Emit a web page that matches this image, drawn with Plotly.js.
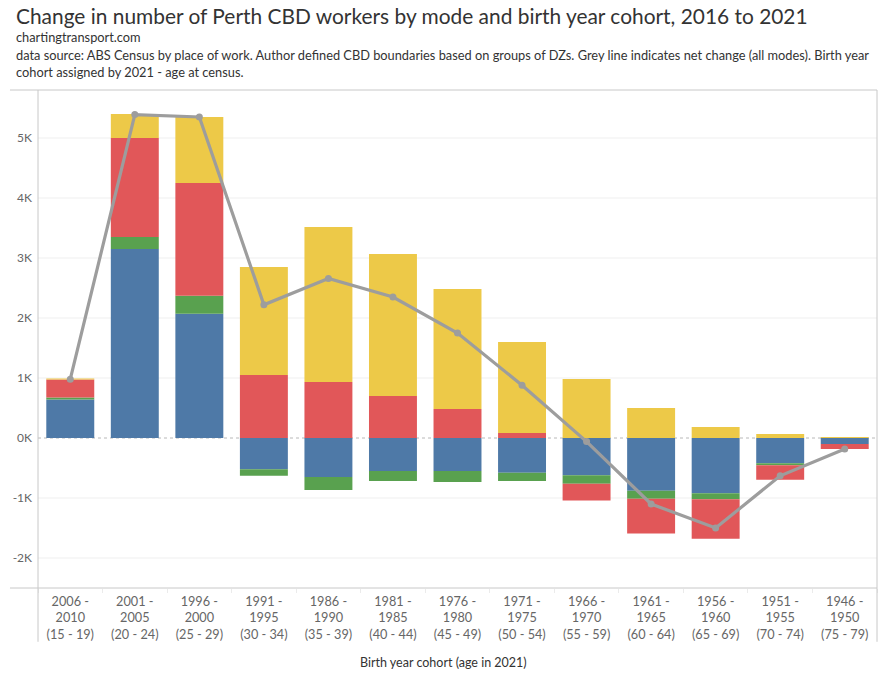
<!DOCTYPE html>
<html>
<head>
<meta charset="utf-8">
<script src="https://cdn.plot.ly/plotly-3.0.1.min.js"></script>
<style>
  html, body { margin: 0; padding: 0; background: #fff; }
  #chart { width: 882px; height: 676px; }
</style>
</head>
<body>
<div id="chart"></div>
<script>
// ---- Data (change in number of workers, 2016 to 2021) ----
const cohorts = [
  "2006 -<br>2010<br>(15 - 19)", "2001 -<br>2005<br>(20 - 24)", "1996 -<br>2000<br>(25 - 29)",
  "1991 -<br>1995<br>(30 - 34)", "1986 -<br>1990<br>(35 - 39)", "1981 -<br>1985<br>(40 - 44)",
  "1976 -<br>1980<br>(45 - 49)", "1971 -<br>1975<br>(50 - 54)", "1966 -<br>1970<br>(55 - 59)",
  "1961 -<br>1965<br>(60 - 64)", "1956 -<br>1960<br>(65 - 69)", "1951 -<br>1955<br>(70 - 74)",
  "1946 -<br>1950<br>(75 - 79)"
];
const modeBlue   = [640, 3150, 2070, -520, -650, -550, -550, -580, -620, -880, -920, -420, -100];
const modeGreen  = [35, 200, 300, -110, -217, -167, -183, -135, -143, -133, -100, -33, 0];
const modeRed    = [300, 1650, 1880, 1050, 933, 700, 483, 83, -280, -577, -661, -244, -83];
const modeYellow = [16, 400, 1100, 1800, 2584, 2367, 2000, 1517, 983, 500, 183, 67, 15];
const netChange  = [980, 5390, 5350, 2220, 2660, 2350, 1750, 880, -60, -1100, -1500, -630, -185];

const yTickVals = [-2000, -1000, 0, 1000, 2000, 3000, 4000, 5000];
const yTickText = ["-2K", "-1K", "0K", "1K", "2K", "3K", "4K", "5K"];

const FONT = "Lato, 'Open Sans', sans-serif";
const colors = { blue: "#4e79a7", green: "#59a14f", red: "#e15759", yellow: "#edc948" };

function barTrace(vals, color, name) {
  return { type: "bar", x: cohorts, y: vals, name: name,
           marker: { color: color, line: { width: 0 } }, hoverinfo: "skip" };
}

const traces = [
  barTrace(modeBlue, colors.blue, "Mode 1"),
  barTrace(modeGreen, colors.green, "Mode 2"),
  barTrace(modeRed, colors.red, "Mode 3"),
  barTrace(modeYellow, colors.yellow, "Mode 4"),
  { type: "scatter", mode: "lines+markers", x: cohorts, y: netChange, name: "Net",
    line: { color: "#9d9d9d", width: 3.2 }, marker: { color: "#9d9d9d", size: 7 }, hoverinfo: "skip" }
];

const frame = "#c8c8c8";
const shapes = [];
yTickVals.forEach(v => {
  shapes.push({ type: "line", layer: "below", xref: "paper", yref: "y", x0: 0, x1: 1, y0: v, y1: v,
    line: v === 0 ? { color: "#b8b8b8", width: 1, dash: "dot" } : { color: "#efefef", width: 1 } });
});
// frame lines
shapes.push({ type: "line", xref: "paper", yref: "paper", x0: -0.0334, x1: 1, y0: 1, y1: 1, line: { color: frame, width: 1 } });
shapes.push({ type: "line", xref: "paper", yref: "paper", x0: -0.0334, x1: 1, y0: 0, y1: 0, line: { color: frame, width: 1 } });
shapes.push({ type: "line", xref: "paper", yref: "paper", x0: 0, x1: 0, y0: -0.108, y1: 1, line: { color: frame, width: 1 } });
shapes.push({ type: "line", xref: "paper", yref: "paper", x0: 1, x1: 1, y0: -0.108, y1: 1, line: { color: frame, width: 1 } });

const layout = {
  width: 882, height: 676,
  margin: { l: 38, r: 5, t: 90, b: 88 },
  paper_bgcolor: "#fff", plot_bgcolor: "#fff",
  barmode: "relative", bargap: 0.257,
  showlegend: false,
  font: { family: FONT, color: "#666", size: 12 },
  xaxis: {
    type: "category", range: [-0.5, 12.5], showgrid: false, zeroline: false, showline: false, automargin: false,
    ticks: "outside", tickson: "boundaries", ticklen: 4, tickcolor: "#ebebeb", tickwidth: 1,
    tickfont: { family: FONT, size: 12.7, color: "#666" }, tickangle: 0, ticklabelstandoff: 4,
    fixedrange: true
  },
  yaxis: {
    range: [-2500, 5800], showgrid: false, zeroline: false, showline: false, automargin: false,
    tickvals: yTickVals, ticktext: yTickText, ticks: "", ticklabelstandoff: 5,
    tickfont: { family: FONT, size: 12, color: "#666" }, fixedrange: true
  },
  shapes: shapes,
  annotations: [
    { xref: "paper", yref: "paper", x: -0.0286, y: 1.1506, xanchor: "left", yanchor: "middle", showarrow: false,
      text: "Change in number of Perth CBD workers by mode and birth year cohort, 2016 to 2021",
      font: { family: FONT, size: 20.9, color: "#333" } },
    { xref: "paper", yref: "paper", x: -0.0286, y: 1.1064, xanchor: "left", yanchor: "middle", showarrow: false,
      text: "chartingtransport.com", font: { family: FONT, size: 12.8, color: "#333" } },
    { xref: "paper", yref: "paper", x: -0.0286, y: 1.0532, xanchor: "left", yanchor: "middle", showarrow: false, align: "left",
      text: "data source: ABS Census by place of work. Author defined CBD boundaries based on groups of DZs. Grey line indicates net change (all modes). Birth year<br>cohort assigned by 2021 - age at census.",
      font: { family: FONT, size: 12.8, color: "#333" } },
    { xref: "paper", yref: "paper", x: 0.483, y: -0.149, xanchor: "center", yanchor: "middle", showarrow: false,
      text: "Birth year cohort (age in 2021)", font: { family: FONT, size: 12.5, color: "#333" } }
  ]
};

Plotly.newPlot("chart", traces, layout, { staticPlot: true, displayModeBar: false });
</script>
</body>
</html>
